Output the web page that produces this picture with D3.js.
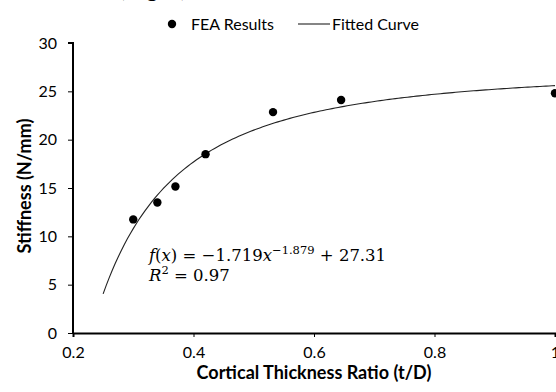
<!DOCTYPE html>
<html>
<head>
<meta charset="utf-8">
<script src="https://cdn.jsdelivr.net/npm/d3@7"></script>
<style>
  body { margin: 0; background: #fff; }
  svg { display: block; font-family: Lato, "Open Sans", sans-serif; }
  .axis text { font-size: 16px; fill: #000; font-family: Lato, sans-serif; }
  .eq { font-family: "DejaVu Serif", "Liberation Serif", serif; font-size: 16.5px; }
</style>
</head>
<body>
<svg width="556" height="392"></svg>
<script>
// FEA points
const ratio = [0.30, 0.34, 0.37, 0.42, 0.532, 0.645, 1.0];
const stiffness = [11.75, 13.5, 15.15, 18.5, 22.85, 24.1, 24.8];

// fitted curve f(x) = a * x^b + c, coefficients as printed on the chart
const fitA = -1.719, fitB = -1.879, fitC = 27.31;
const fitRange = [0.25, 1.0];

const xTicks = [0.2, 0.4, 0.6, 0.8, 1];
const yTicks = [0, 5, 10, 15, 20, 25, 30];

let svg = d3.select("svg");

let x = d3.scaleLinear().domain([0.2, 1]).range([73, 555]);
let y = d3.scaleLinear().domain([0, 30]).range([333, 43]);

// partial caption from the page above, cut off at the top
svg.append("text")
  .attr("x", 119).attr("y", -3)
  .style("font-size", "24px")
  .text("(Right)");

// axes
let xAxis = svg.append("g")
  .attr("class", "axis")
  .attr("transform", "translate(0,333)")
  .call(d3.axisBottom(x).tickValues(xTicks).tickSize(4).tickPadding(10)
    .tickFormat(d => d === 1 ? "1" : d3.format(".1f")(d)));
xAxis.select(".domain").attr("stroke-width", 2);
xAxis.selectAll(".tick line").attr("stroke-width", 1);

let yAxis = svg.append("g")
  .attr("class", "axis")
  .attr("transform", "translate(73,0)")
  .call(d3.axisLeft(y).tickValues(yTicks).tickSize(5).tickPadding(11));
yAxis.select(".domain").attr("stroke-width", 2).attr("d", "M-5,43H0V333");
yAxis.selectAll(".tick line").attr("stroke-width", 1);

// axis titles
svg.append("text")
  .attr("x", 314).attr("y", 379)
  .attr("text-anchor", "middle")
  .style("font-size", "18px").style("font-weight", "bold")
  .text("Cortical Thickness Ratio (t/D)");

svg.append("text")
  .attr("transform", "translate(31,186) rotate(-90)")
  .attr("text-anchor", "middle")
  .style("font-size", "18px").style("font-weight", "bold")
  .text("Stiffness (N/mm)");

// fitted curve
let curveX = d3.range(fitRange[0], fitRange[1] + 0.0001, 0.005);
let line = d3.line()
  .x(d => x(d))
  .y(d => y(fitA * Math.pow(d, fitB) + fitC));

svg.append("path")
  .datum(curveX)
  .attr("d", line)
  .attr("fill", "none")
  .attr("stroke", "#222")
  .attr("stroke-width", 1.1);

// points
svg.selectAll(".pt")
  .data(ratio)
  .enter().append("circle")
  .attr("class", "pt")
  .attr("cx", d => x(d))
  .attr("cy", (d, i) => y(stiffness[i]))
  .attr("r", 4.2)
  .attr("fill", "#000");

// equation label
let eq1 = svg.append("text").attr("class", "eq").attr("x", 149).attr("y", 261);
eq1.append("tspan").style("font-style", "italic").text("f");
eq1.append("tspan").text("(");
eq1.append("tspan").style("font-style", "italic").text("x");
eq1.append("tspan").text(") = \u22121.719");
eq1.append("tspan").style("font-style", "italic").text("x");
eq1.append("tspan").attr("dy", -7).style("font-size", "11.5px").text("\u22121.879");
eq1.append("tspan").attr("dy", 7).text(" + 27.31");

let eq2 = svg.append("text").attr("class", "eq").attr("x", 149).attr("y", 281);
eq2.append("tspan").style("font-style", "italic").text("R");
eq2.append("tspan").attr("dy", -7).style("font-size", "11.5px").text("2");
eq2.append("tspan").attr("dy", 7).text(" = 0.97");

// legend
let legend = svg.append("g").style("font-size", "16px");
legend.append("circle").attr("cx", 172).attr("cy", 24).attr("r", 4.2).attr("fill", "#000");
legend.append("text").attr("x", 191).attr("y", 30).text("FEA Results");
legend.append("line").attr("x1", 298).attr("x2", 330).attr("y1", 24).attr("y2", 24)
  .attr("stroke", "#222").attr("stroke-width", 1.1);
legend.append("text").attr("x", 332).attr("y", 30).text("Fitted Curve");
</script>
</body>
</html>
